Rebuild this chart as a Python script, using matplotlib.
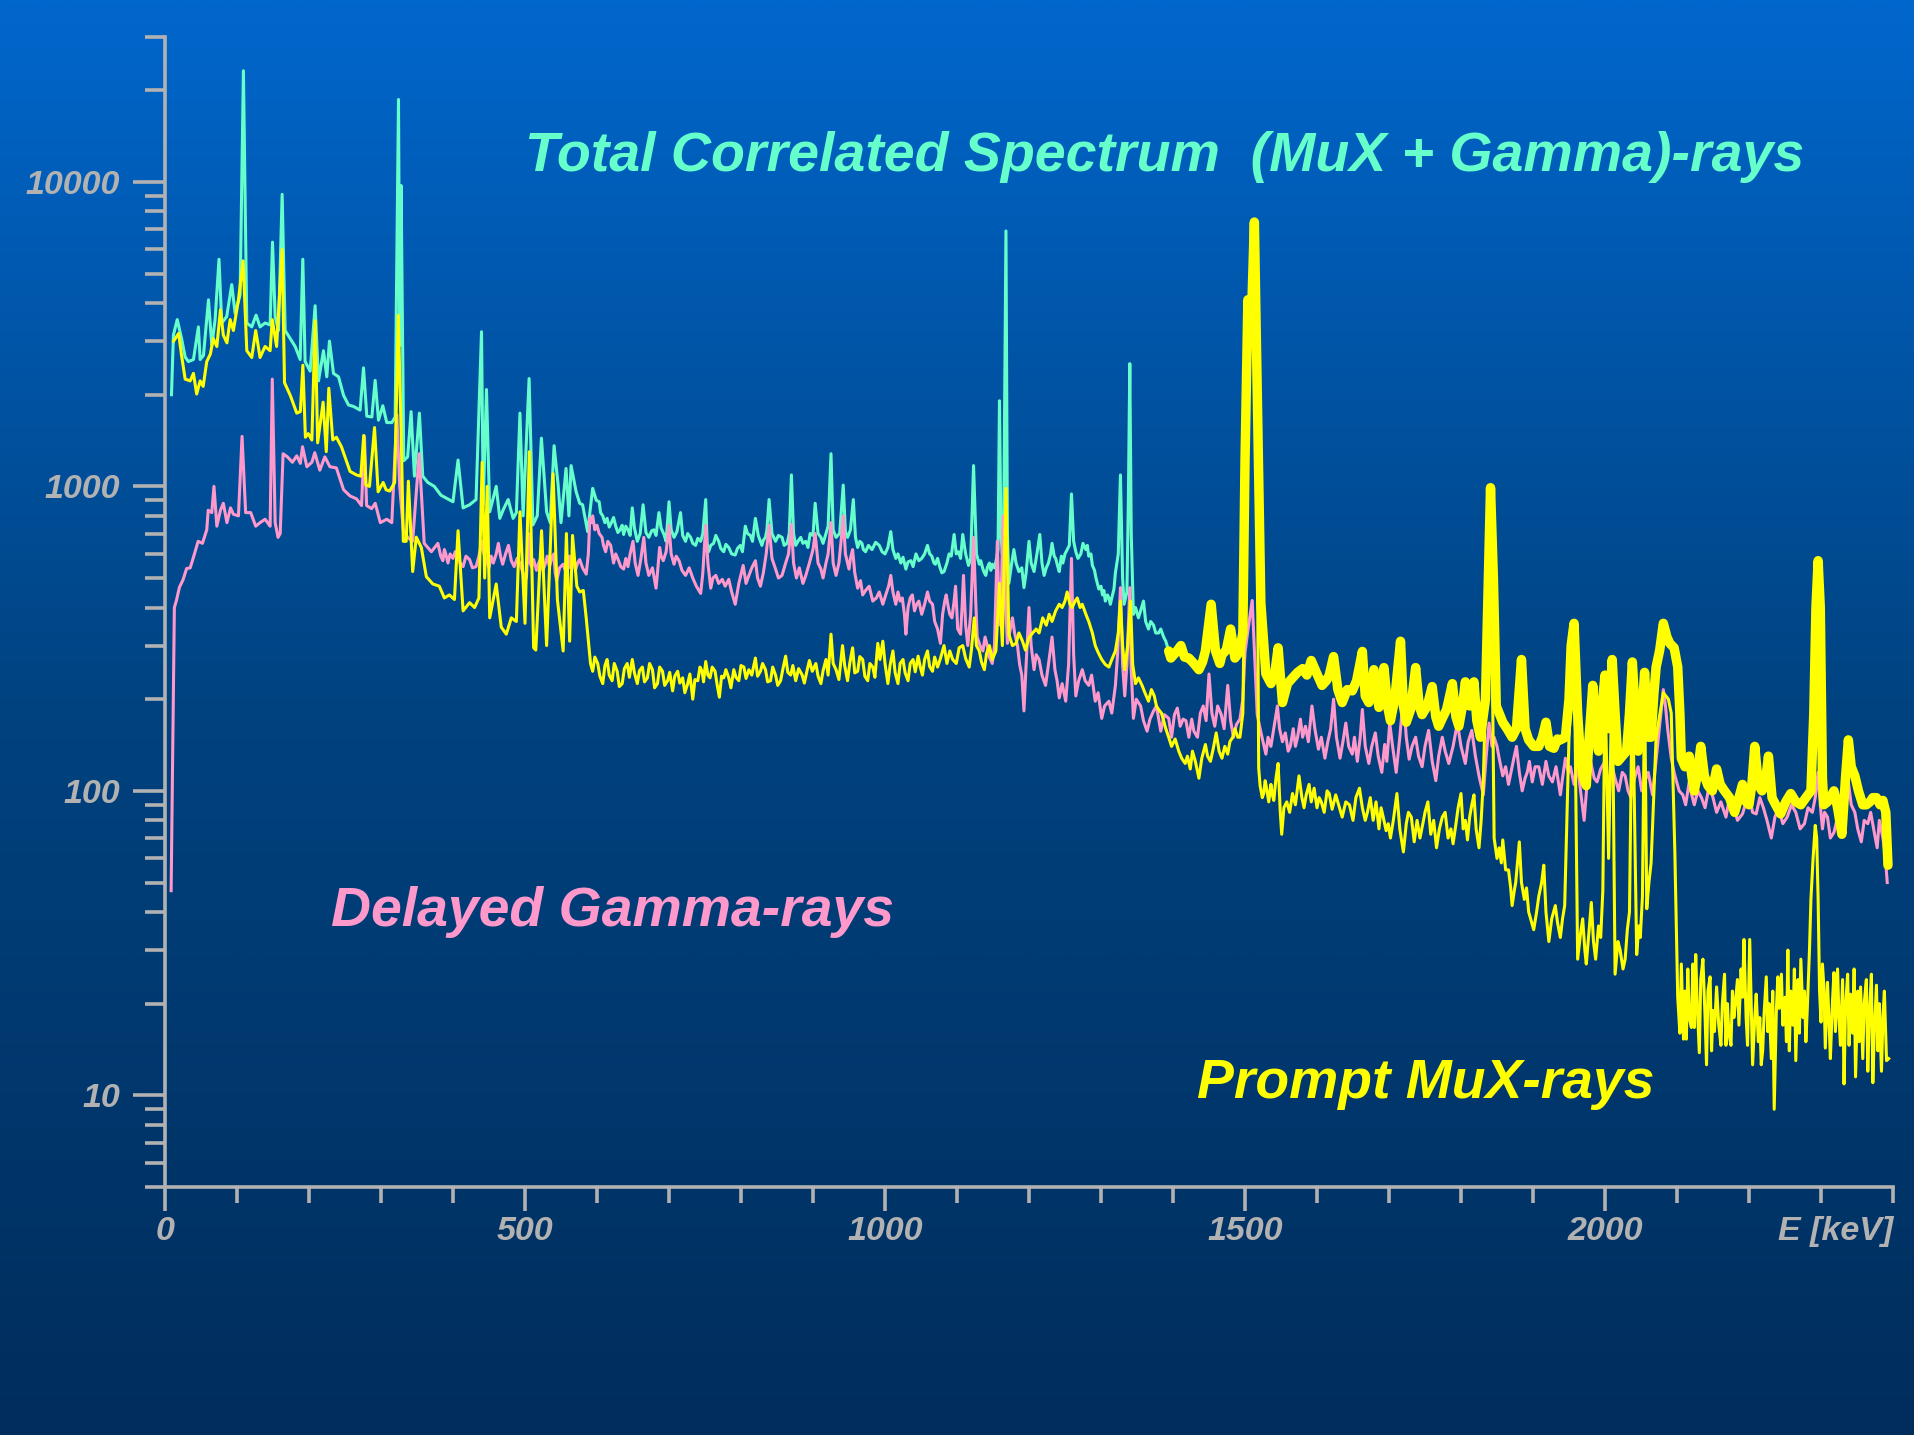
import numpy as np
import matplotlib
matplotlib.use("Agg")
import matplotlib.pyplot as plt
from matplotlib.colors import LinearSegmentedColormap
from matplotlib.ticker import FixedLocator, NullFormatter, FixedFormatter

# ---------------- data: (energy keV, counts) ----------------
total_points = [
    (9, 2000), (11.7, 3140), (17, 3530), (23, 3060), (28, 2660), (32.5, 2570), (39.5, 2610), (46.4, 3340),
    (48.8, 2610), (53.4, 2690), (60.4, 4100), (65, 2900), (69.6, 3530), (75, 5570), (78.8, 3440), (85.7, 3610),
    (92.7, 4600), (97.4, 3700), (104.3, 4250), (108.9, 23170), (113.6, 3440), (120.5, 3340), (126.5, 3650),
    (132, 3340), (139, 3440), (146, 3390), (149.3, 6340), (153, 3610), (157.6, 3250), (162.7, 9100),
    (166.9, 3250), (173.8, 3060), (180.8, 2880), (187.7, 2610), (191.4, 5570), (194.6, 2570), (201.6, 2390),
    (208.5, 3920), (213.2, 2220), (220.1, 2790), (224.7, 2290), (228.4, 3000), (234, 2350), (241, 2290),
    (248, 1990), (254.9, 1850), (261.8, 1830), (271, 1780), (275.7, 2450), (280.3, 1700), (287.3, 1690),
    (291.9, 2230), (296.5, 1650), (302.5, 1840), (308, 1620), (315, 1620), (319.7, 1690), (324.3, 18650),
    (326.1, 2900), (327.9, 9730), (331.6, 1214), (337, 1250), (341.8, 1760), (346.4, 1080), (353.3, 1740),
    (358, 1080), (365, 1030), (374, 1000), (383.3, 935), (392.6, 910), (400, 890), (407, 1220), (414, 850),
    (423, 870), (432, 905), (439.6, 3220), (442, 870), (446.5, 2080), (451, 825), (460, 1000), (465, 785),
    (470, 840), (476.6, 905), (483.5, 785), (488, 820), (493, 1740), (497.4, 800), (505.7, 2260), (511, 747),
    (517, 800), (522.8, 1440), (530, 825), (535, 760), (540.4, 1360), (546, 1010), (550, 760), (557, 1145),
    (561, 800), (564, 1170), (571, 960), (576, 880), (580, 870), (587, 710), (594, 985), (599, 900),
    (603, 890), (605, 820), (608, 800), (611, 760), (614, 785), (617, 735), (620, 760), (623, 790), (626, 740),
    (629, 705), (632, 720), (635, 745), (637, 695), (640, 740), (643, 720), (646, 690), (649, 850), (652, 730),
    (656, 660), (660, 700), (664, 870), (668, 705), (672, 680), (676, 715), (679, 720), (682, 690), (686, 820),
    (689, 730), (693, 695), (696, 660), (700, 890), (703, 720), (707, 680), (711, 710), (716, 820), (719, 690),
    (723, 660), (726, 700), (730, 680), (733, 650), (737, 640), (740, 675), (744, 660), (747, 700), (751, 905),
    (753, 650), (755, 610), (758, 640), (762, 650), (765, 690), (769, 660), (772, 625), (776, 610), (779, 645),
    (783, 630), (787, 600), (792, 595), (795, 625), (799, 640), (802, 610), (806, 740), (809, 700), (813, 690),
    (816, 660), (820, 785), (824, 690), (829, 640), (831, 665), (834, 680), (836, 720), (839, 905), (843, 700),
    (848, 660), (852, 690), (857, 680), (860, 640), (864, 650), (867, 700), (870, 1090), (873, 700), (876, 640),
    (880, 665), (883, 680), (886, 650), (890, 660), (893, 630), (896, 700), (900, 690), (903, 880), (907, 700),
    (911, 680), (914, 650), (918, 700), (921, 740), (925, 1280), (928, 720), (932, 680), (937, 700), (942, 1010),
    (945, 710), (948, 680), (952, 720), (956, 905), (959, 680), (962, 630), (965, 660), (968, 650), (970, 620),
    (973, 610), (977, 640), (982, 620), (987, 655), (992, 640), (996, 610), (1000, 600), (1004, 630),
    (1008, 710), (1011, 620), (1015, 580), (1018, 600), (1022, 560), (1025, 585), (1029, 535), (1032, 565),
    (1036, 570), (1039, 545), (1043, 600), (1047, 570), (1051, 580), (1055, 600), (1059, 640), (1062, 600),
    (1065, 590), (1068, 560), (1070, 555), (1073, 580), (1076, 545), (1079, 520), (1082, 525), (1086, 560),
    (1089, 600), (1092, 590), (1096, 695), (1099, 600), (1102, 610), (1105, 580), (1108, 695), (1112, 600),
    (1116, 550), (1119, 580), (1123, 1170), (1127, 600), (1131, 555), (1133, 570), (1136, 535), (1138, 520),
    (1140, 510), (1142, 540), (1145, 560), (1147, 530), (1149, 555), (1152, 540), (1155, 580), (1157, 620),
    (1159, 1910), (1161, 700), (1163, 600), (1165, 800), (1168, 6900), (1170, 700), (1172, 480), (1176, 560),
    (1179, 620), (1182, 560), (1186, 525), (1190, 540), (1193, 465), (1196, 520), (1200, 660), (1203, 560),
    (1207, 525), (1211, 600), (1215, 695), (1218, 560), (1221, 510), (1224, 540), (1227, 560), (1230, 600),
    (1232, 650), (1235, 590), (1237, 580), (1240, 545), (1242, 525), (1245, 590), (1247, 560), (1250, 600),
    (1253, 620), (1256, 640), (1259, 944), (1262, 660), (1265, 610), (1268, 580), (1272, 600), (1275, 650),
    (1279, 620), (1281, 640), (1283, 590), (1286, 600), (1288, 550), (1291, 530), (1293, 500), (1295, 480),
    (1297, 460), (1300, 470), (1302, 440), (1304, 455), (1306, 420), (1309, 440), (1311, 430), (1313, 410),
    (1315, 430), (1318, 460), (1320, 520), (1324, 600), (1327, 1090), (1330, 500), (1332, 410), (1334, 430),
    (1336, 450), (1338, 900), (1340, 2530), (1342, 700), (1345, 380), (1348, 400), (1352, 370), (1355, 390),
    (1359, 420), (1362, 360), (1366, 340), (1369, 360), (1373, 350), (1376, 330), (1380, 330), (1383, 340),
    (1387, 320), (1390, 310), (1394, 288),
    (1397, 273), (1404, 285), (1411, 300), (1416, 275), (1422, 273), (1429, 262), (1436, 250), (1441, 265),
    (1445, 288), (1453, 410), (1459, 288), (1465, 262), (1468, 280), (1474, 290), (1480, 340), (1486, 273),
    (1492, 285), (1497, 330), (1500, 1200), (1504, 4100), (1508, 3000), (1513, 7380), (1518, 1500), (1522, 415),
    (1529, 242), (1536, 225), (1541, 240), (1546, 295), (1552, 195), (1559, 225), (1566, 235), (1573, 245),
    (1580, 252), (1586, 240), (1592, 268), (1599, 245), (1607, 222), (1613, 230), (1617, 240), (1623, 276),
    (1629, 215), (1635, 195), (1642, 215), (1649, 213), (1655, 230), (1663, 287), (1667, 205), (1672, 195),
    (1679, 250), (1686, 188), (1693, 254), (1698, 190), (1702, 170), (1708, 200), (1716, 310), (1720, 190),
    (1724, 168), (1730, 185), (1737, 254), (1742, 190), (1746, 178), (1753, 190), (1760, 220), (1765, 175),
    (1769, 163), (1775, 175), (1780, 185), (1788, 225), (1793, 175), (1797, 163), (1802, 190), (1806, 228),
    (1812, 190), (1818, 228), (1822, 170), (1827, 150), (1834, 200), (1838, 500), (1841, 990), (1845, 500),
    (1849, 190), (1853, 180), (1858, 168), (1864, 160), (1871, 150), (1877, 160), (1884, 270), (1889, 160),
    (1894, 147), (1901, 140), (1908, 140), (1913, 150), (1918, 168), (1923, 140), (1929, 138), (1934, 148),
    (1938, 147), (1945, 150), (1950, 200), (1953, 300), (1957, 355), (1962, 180), (1966, 128), (1970, 110),
    (1974, 104), (1978, 150), (1983, 222), (1987, 160), (1991, 135), (1995, 180), (2000, 240), (2005, 160),
    (2010, 270), (2014, 180), (2018, 125), (2024, 130), (2030, 135), (2034, 180), (2038, 265), (2042, 180),
    (2046, 135), (2050, 160), (2055, 245), (2060, 150), (2064, 150), (2068, 210), (2071, 255), (2076, 290),
    (2081, 355), (2086, 320), (2090, 305), (2096, 295), (2101, 255), (2104, 180), (2106, 128), (2111, 120),
    (2117, 130), (2121, 110), (2124, 100), (2128, 112), (2133, 140), (2138, 112), (2143, 104), (2149, 100),
    (2155, 118), (2160, 105), (2166, 100), (2173, 95), (2180, 85), (2186, 95), (2191, 105), (2196, 92),
    (2200, 90), (2204, 105), (2208, 140), (2213, 105), (2218, 100), (2223, 108), (2227, 130), (2232, 95),
    (2237, 90), (2244, 84), (2251, 92), (2258, 98), (2265, 92), (2272, 90), (2279, 95), (2286, 100),
    (2290, 180), (2293, 400), (2296, 570), (2299, 400), (2302, 110), (2304, 90), (2309, 92), (2313, 95),
    (2318, 100), (2323, 88), (2329, 72), (2334, 110), (2338, 147), (2342, 120), (2347, 112), (2352, 100),
    (2358, 90), (2363, 90), (2368, 92), (2372, 95), (2377, 95), (2382, 90), (2386, 93), (2390, 85), (2393, 57),
]

delayed_points = [
    (8.5, 47), (13, 400), (16, 423), (20, 466), (25, 493), (30, 537), (35, 540), (40, 590), (46, 660), (52, 650),
    (58, 720), (60, 835), (65, 820), (68, 1000), (72, 740), (77, 835), (81, 880), (86, 760), (91, 850), (95, 810),
    (102, 800), (107, 1460), (112, 820), (119, 820), (126, 740), (132, 760), (139, 780), (146, 740), (149, 2250),
    (153, 760), (157, 680), (160, 700), (164, 1280), (170, 1250), (177, 1200), (183, 1260), (188, 1190),
    (191, 1350), (197, 1160), (204, 1200), (208, 1290), (215, 1130), (222, 1250), (229, 1160), (238, 1150),
    (248, 975), (257, 930), (266, 910), (273, 865), (277, 1460), (280, 865), (287, 845), (292, 880), (299, 760),
    (308, 780), (315, 760), (322, 1720), (326, 1000), (331, 720), (337, 680), (344, 660), (353, 1280), (360, 650),
    (370, 610), (379, 650), (383, 590), (386, 570), (388, 620), (390, 600), (393, 560), (396, 600), (400, 580),
    (403, 610), (407, 580), (410, 560), (414, 545), (418, 590), (423, 575), (427, 540), (432, 545), (436, 590),
    (440, 660), (443, 600), (446, 575), (450, 540), (453, 590), (456, 560), (460, 600), (463, 650), (466, 590),
    (469, 555), (473, 600), (477, 640), (481, 570), (485, 545), (489, 580), (493, 560), (497, 520), (502, 500),
    (505, 700), (507, 560), (509, 545), (512, 575), (516, 530), (519, 560), (522, 580), (525, 530), (528, 555),
    (531, 590), (534, 545), (537, 580), (540, 600), (542, 520), (544, 490), (548, 540), (553, 555), (557, 520),
    (561, 590), (563, 540), (565, 590), (568, 560), (570, 530), (573, 560), (576, 575), (580, 540), (585, 515),
    (588, 600), (590, 785), (592, 760), (594, 800), (597, 720), (600, 745), (603, 700), (607, 680), (609, 640),
    (612, 610), (615, 660), (619, 640), (621, 600), (623, 560), (626, 600), (630, 570), (633, 545), (637, 535),
    (640, 580), (643, 545), (646, 600), (650, 660), (653, 560), (657, 510), (661, 580), (665, 680), (668, 560),
    (672, 510), (677, 540), (682, 463), (684, 520), (687, 630), (689, 590), (692, 570), (696, 610), (700, 745),
    (703, 600), (707, 555), (710, 590), (714, 570), (718, 530), (723, 510), (728, 540), (733, 500), (738, 470),
    (744, 445), (747, 520), (751, 745), (754, 560), (758, 463), (761, 500), (765, 510), (769, 480), (774, 495),
    (778, 470), (783, 495), (787, 450), (792, 410), (797, 480), (803, 550), (807, 480), (811, 510), (815, 540),
    (820, 570), (823, 500), (827, 470), (831, 520), (835, 600), (839, 745), (843, 580), (848, 535), (852, 500),
    (857, 510), (862, 560), (866, 600), (870, 750), (873, 560), (877, 500), (881, 540), (886, 480), (890, 510),
    (895, 560), (900, 620), (903, 700), (907, 560), (911, 535), (914, 500), (918, 560), (921, 600), (925, 760),
    (928, 560), (932, 510), (936, 560), (940, 700), (942, 800), (945, 600), (950, 535), (952, 580), (955, 620),
    (958, 520), (962, 463), (966, 490), (969, 440), (973, 455), (978, 470), (983, 420), (988, 430), (992, 450),
    (997, 410), (1001, 440), (1005, 470), (1008, 510), (1011, 450), (1015, 410), (1018, 450), (1021, 420),
    (1024, 430), (1027, 380), (1029, 327), (1032, 400), (1035, 430), (1038, 440), (1041, 390), (1044, 410),
    (1047, 420), (1051, 380), (1055, 410), (1059, 450), (1062, 420), (1066, 410), (1069, 360), (1073, 340),
    (1077, 305), (1080, 380), (1083, 420), (1085, 440), (1088, 400), (1090, 380), (1093, 370), (1096, 420),
    (1098, 470), (1101, 340), (1105, 327), (1107, 400), (1109, 510), (1112, 350), (1115, 300), (1119, 380),
    (1123, 680), (1126, 420), (1128, 320), (1132, 300), (1136, 288), (1139, 320), (1142, 300), (1145, 275),
    (1149, 262), (1152, 300), (1156, 660), (1158, 420), (1160, 350), (1162, 500), (1164, 800), (1167, 450),
    (1170, 305), (1173, 330), (1177, 370), (1180, 330), (1184, 300), (1187, 260), (1190, 240), (1193, 183),
    (1196, 260), (1200, 400), (1203, 300), (1207, 250), (1210, 280), (1214, 270), (1218, 240), (1223, 222),
    (1227, 260), (1232, 320), (1236, 250), (1239, 230), (1242, 202), (1246, 225), (1251, 197), (1255, 260),
    (1259, 580), (1262, 280), (1265, 205), (1269, 230), (1274, 250), (1278, 230), (1283, 222), (1287, 240),
    (1292, 197), (1296, 210), (1301, 173), (1305, 190), (1311, 197), (1315, 180), (1320, 222), (1323, 280),
    (1327, 465), (1330, 260), (1333, 205), (1336, 260), (1340, 465), (1342, 250), (1345, 173), (1349, 200),
    (1355, 190), (1359, 170), (1364, 157), (1368, 172), (1373, 183), (1377, 190), (1383, 157), (1388, 178),
    (1394, 173), (1398, 150), (1402, 178), (1406, 187), (1410, 163), (1414, 172), (1418, 170), (1422, 150),
    (1426, 172), (1429, 157), (1434, 150), (1438, 180), (1442, 190), (1446, 170), (1450, 242), (1454, 180),
    (1458, 163), (1462, 190), (1467, 178), (1471, 160), (1476, 222), (1480, 170), (1484, 150), (1488, 165),
    (1493, 172), (1497, 200), (1500, 285), (1505, 350), (1510, 422), (1514, 260), (1517, 178), (1521, 160),
    (1525, 145), (1529, 132), (1532, 150), (1536, 140), (1540, 160), (1545, 190), (1548, 160), (1552, 145),
    (1556, 155), (1560, 135), (1563, 140), (1567, 160), (1570, 140), (1573, 150), (1577, 172), (1580, 150),
    (1584, 163), (1588, 145), (1593, 190), (1597, 160), (1602, 137), (1606, 150), (1611, 128), (1615, 145),
    (1619, 160), (1623, 200), (1627, 150), (1632, 128), (1636, 145), (1640, 167), (1644, 140), (1649, 132),
    (1652, 150), (1656, 125), (1660, 150), (1663, 185), (1667, 140), (1672, 123), (1676, 140), (1681, 155),
    (1685, 130), (1690, 115), (1694, 142), (1697, 125), (1701, 167), (1705, 140), (1710, 115), (1715, 150),
    (1720, 205), (1724, 150), (1728, 127), (1732, 140), (1737, 150), (1741, 130), (1746, 120), (1750, 140),
    (1755, 158), (1760, 125), (1765, 108), (1769, 130), (1774, 150), (1778, 135), (1783, 123), (1789, 140),
    (1795, 167), (1800, 140), (1806, 123), (1810, 145), (1815, 158), (1820, 130), (1825, 112), (1831, 97),
    (1835, 130), (1839, 167), (1843, 140), (1846, 150), (1850, 140), (1853, 128), (1858, 112), (1862, 120),
    (1866, 105), (1871, 120), (1874, 130), (1877, 140), (1881, 115), (1885, 100), (1889, 110), (1892, 115),
    (1895, 125), (1899, 107), (1903, 120), (1908, 120), (1913, 105), (1918, 125), (1922, 112), (1927, 107),
    (1932, 120), (1938, 97), (1941, 110), (1945, 128), (1949, 115), (1952, 120), (1957, 105), (1962, 120),
    (1966, 100), (1971, 80), (1975, 105), (1980, 125), (1985, 110), (1989, 107), (1994, 118), (2000, 125),
    (2005, 105), (2010, 120), (2014, 110), (2019, 100), (2024, 115), (2028, 112), (2032, 100), (2036, 95),
    (2041, 110), (2046, 120), (2051, 100), (2055, 107), (2060, 115), (2066, 97), (2070, 120), (2073, 140),
    (2077, 175), (2081, 215), (2084, 190), (2087, 160), (2090, 140), (2092, 128), (2096, 115), (2099, 108),
    (2103, 100), (2108, 97), (2112, 90), (2117, 107), (2120, 98), (2124, 90), (2129, 100), (2134, 95),
    (2139, 88), (2145, 105), (2150, 95), (2155, 85), (2161, 92), (2168, 82), (2173, 95), (2178, 90), (2184, 80),
    (2191, 84), (2196, 92), (2201, 95), (2205, 85), (2210, 84), (2215, 95), (2220, 88), (2225, 80), (2231, 70),
    (2236, 82), (2241, 88), (2247, 78), (2253, 82), (2259, 90), (2265, 85), (2271, 75), (2277, 78), (2282, 88),
    (2288, 85), (2292, 95), (2296, 115), (2299, 90), (2302, 75), (2305, 85), (2309, 82), (2313, 70), (2318, 73),
    (2322, 80), (2327, 85), (2332, 95), (2338, 107), (2342, 90), (2347, 85), (2351, 75), (2356, 68), (2360, 80),
    (2365, 78), (2369, 85), (2374, 73), (2378, 65), (2381, 80), (2386, 70), (2389, 62), (2392, 50),
]

prompt_points = [
    (12, 3000), (19, 3180), (23, 2690), (28, 2250), (35, 2220), (39.5, 2350), (44, 2010), (48.8, 2220),
    (53, 2130), (58, 2570), (63, 2720), (67, 3060), (72, 2880), (77, 3800), (81, 3140), (86, 2960),
    (90.5, 3530), (95, 3250), (102, 4100), (108.5, 5500), (113.6, 2790), (120.5, 2650), (126, 3250),
    (132, 2650), (139, 2880), (146, 2790), (149, 3530), (155, 2880), (162.7, 6000), (166, 2190), (174, 1990),
    (183, 1740), (188, 1760), (191.5, 2500), (195, 1450), (199, 1490), (204, 1420), (208.5, 3500), (212, 1390),
    (219.6, 1890), (224, 1300), (227.5, 2100), (233, 1420), (238, 1450), (245, 1350), (250, 1250), (257, 1120),
    (266, 1090), (272, 1080), (276, 1470), (279, 1010), (284, 1000), (291, 1560), (296, 960), (303, 1030),
    (307, 975), (312, 965), (319, 1030), (324, 3650), (328, 1500), (331, 660), (335, 660), (338, 1040),
    (344, 525), (349, 681), (356, 630), (363, 505), (372, 478), (381, 470), (388, 430), (395, 440), (402, 425),
    (407, 715), (414, 390), (423, 415), (430, 400), (436, 430), (440.5, 1200), (444, 500), (447.5, 1000),
    (451, 370), (460, 478), (467, 345), (474, 327), (481, 370), (488, 360), (493, 825), (500, 355), (506, 1300),
    (512, 295), (515, 290), (523, 715), (530, 300), (539, 1100), (545, 425), (553, 288), (557.5, 700),
    (562, 310), (566, 690), (572, 470), (576, 450), (581, 455), (585, 370),
    (589, 293), (591, 262), (594, 247), (597, 275), (601, 262), (604, 238), (608, 225), (611, 258), (614, 270),
    (617, 240), (621, 230), (624, 262), (628, 247), (631, 220), (635, 225), (638, 252), (642, 262), (645, 236),
    (649, 270), (652, 244), (656, 225), (659, 248), (663, 255), (666, 228), (670, 235), (673, 262), (677, 250),
    (680, 218), (684, 225), (687, 255), (691, 247), (694, 222), (698, 230), (701, 245), (705, 213), (708, 238),
    (712, 247), (715, 226), (719, 235), (722, 210), (726, 225), (729, 242), (733, 200), (736, 232), (740, 230),
    (743, 255), (746, 247), (748, 228), (751, 266), (754, 240), (757, 235), (760, 255), (764, 247), (767, 222),
    (770, 203), (773, 238), (776, 235), (779, 250), (783, 235), (786, 218), (790, 250), (793, 236), (797, 230),
    (800, 258), (804, 255), (807, 234), (811, 250), (815, 240), (820, 273), (823, 238), (827, 247), (830, 262),
    (834, 250), (837, 228), (841, 230), (844, 255), (848, 240), (851, 222), (855, 230), (858, 250), (862, 277),
    (865, 245), (869, 240), (872, 258), (876, 230), (880, 252), (885, 240), (888, 226), (892, 250), (895, 268),
    (899, 247), (904, 262), (907, 238), (911, 225), (914, 248), (918, 270), (921, 240), (925, 327), (928, 262),
    (932, 250), (936, 232), (941, 300), (944, 258), (948, 230), (951, 262), (955, 295), (958, 244), (962, 247),
    (965, 276), (969, 270), (972, 238), (976, 230), (979, 262), (983, 255), (986, 236), (990, 305), (993, 270),
    (997, 310), (1000, 262), (1004, 225), (1007, 258), (1011, 288), (1014, 245), (1018, 225), (1021, 262),
    (1025, 270), (1028, 244), (1032, 230), (1035, 262), (1039, 270), (1042, 246), (1046, 277), (1049, 255),
    (1052, 240), (1055, 270), (1059, 288), (1062, 256), (1066, 247), (1069, 275), (1073, 255), (1077, 272),
    (1082, 300), (1086, 262), (1090, 288), (1094, 270), (1099, 262), (1103, 295), (1108, 300), (1112, 272),
    (1117, 255), (1120, 290), (1124, 370), (1127, 300), (1131, 288), (1134, 265), (1138, 250), (1141, 282),
    (1145, 300), (1149, 270), (1154, 288),
    (1159, 480), (1163, 300), (1168, 985), (1172, 327), (1177, 300), (1182, 305), (1186, 330), (1191, 310),
    (1195, 290), (1200, 318), (1205, 330), (1210, 340), (1214, 330), (1219, 370), (1224, 350), (1228, 380),
    (1232, 360), (1237, 390), (1242, 410), (1246, 400), (1250, 420), (1253, 450), (1257, 410), (1260, 400),
    (1264, 420), (1267, 430), (1271, 400), (1274, 410), (1279, 380), (1283, 360), (1288, 330), (1292, 300),
    (1296, 285), (1301, 270), (1306, 260), (1311, 255), (1315, 270), (1320, 288), (1324, 330), (1327, 420),
    (1330, 300), (1333, 250), (1337, 300), (1341, 420), (1344, 260), (1348, 225), (1352, 235), (1357, 222),
    (1361, 210), (1366, 197), (1370, 215), (1374, 205), (1377, 190), (1380, 185), (1384, 180), (1387, 170),
    (1390, 160), (1394, 150), (1398, 140), (1403, 148), (1408, 135), (1412, 128), (1417, 123), (1420, 130),
    (1424, 118), (1427, 135), (1431, 125), (1436, 110), (1440, 128), (1445, 142), (1448, 130), (1452, 125),
    (1456, 138), (1460, 155), (1464, 135), (1468, 128), (1472, 140), (1476, 132), (1479, 145), (1483, 150),
    (1486, 160), (1490, 150), (1493, 150), (1497, 180), (1500, 600), (1504, 4100), (1508, 3000), (1513, 7380),
    (1517, 800), (1519, 119), (1521, 104), (1524, 95), (1526, 98), (1528, 108), (1530, 102), (1533, 92),
    (1536, 105), (1538, 97), (1540, 93), (1543, 110), (1546, 123), (1549, 85), (1551, 72), (1554, 88),
    (1558, 92), (1562, 85), (1566, 98), (1570, 90), (1575, 112), (1579, 95), (1582, 88), (1585, 97),
    (1589, 105), (1592, 92), (1596, 102), (1600, 88), (1603, 95), (1606, 92), (1610, 85), (1614, 100),
    (1617, 98), (1621, 87), (1626, 97), (1630, 90), (1635, 82), (1640, 92), (1645, 90), (1650, 80), (1654, 95),
    (1659, 102), (1663, 88), (1667, 80), (1670, 85), (1674, 95), (1678, 80), (1682, 92), (1686, 75), (1689, 88),
    (1692, 82), (1696, 74), (1699, 78), (1702, 70), (1706, 80), (1711, 98), (1715, 75), (1720, 63), (1724, 78),
    (1727, 85), (1731, 82), (1735, 68), (1739, 80), (1743, 70), (1747, 78), (1750, 85), (1754, 92), (1758, 72),
    (1762, 80), (1766, 65), (1770, 75), (1774, 82), (1778, 85), (1782, 70), (1786, 75), (1789, 67), (1793, 78),
    (1796, 88), (1800, 98), (1803, 75), (1806, 80), (1809, 69), (1812, 82), (1815, 90), (1818, 97), (1821, 75),
    (1825, 65), (1828, 80), (1831, 108), (1836, 300), (1841, 950), (1846, 70), (1850, 60), (1853, 65),
    (1856, 58), (1858, 69), (1862, 55), (1866, 55), (1869, 48), (1871, 42), (1874, 47), (1876, 50), (1879, 60),
    (1881, 68), (1884, 50), (1888, 44), (1891, 48), (1894, 40), (1898, 37), (1901, 35), (1905, 40), (1908, 45),
    (1912, 50), (1915, 57), (1918, 40), (1922, 32), (1926, 38), (1931, 42), (1934, 37), (1938, 33), (1941, 38),
    (1944, 42), (1950, 150), (1957, 330), (1962, 28), (1966, 34), (1969, 38), (1972, 30), (1974, 27),
    (1978, 35), (1981, 43), (1984, 32), (1987, 28), (1991, 36), (1994, 33), (1997, 47), (2000, 220), (2005, 60),
    (2010, 250), (2014, 25), (2018, 32), (2021, 30), (2025, 26), (2028, 28), (2031, 35), (2034, 40),
    (2038, 245), (2044, 29), (2047, 36), (2049, 33), (2052, 45), (2055, 225), (2058, 41), (2061, 50),
    (2064, 58), (2071, 150), (2081, 210), (2088, 200), (2092, 180), (2097, 63),
    (2101, 21), (2104, 16), (2106, 27), (2109, 15.3), (2111, 22), (2113, 15.3), (2115, 26), (2117, 18),
    (2120, 16.7), (2122, 27), (2124, 16.7), (2126, 29), (2128, 20), (2131, 13.8), (2133, 24), (2136, 28),
    (2139, 18), (2141, 12.6), (2143, 22), (2146, 24.5), (2148, 14), (2150, 19), (2152, 16.2), (2155, 22.7),
    (2158, 17), (2161, 14.6), (2163, 20), (2166, 25), (2168, 14.6), (2170, 20), (2172, 16), (2175, 14.6),
    (2177, 22), (2179, 18), (2181, 20), (2184, 24), (2186, 17), (2189, 26), (2191, 21), (2193, 32.5),
    (2196, 18), (2198, 14.6), (2201, 32.5), (2203, 20), (2205, 12.6), (2208, 18), (2210, 21.5), (2213, 15),
    (2215, 18), (2217, 12.6), (2219, 14), (2221, 18.6), (2224, 24.5), (2226, 16.2), (2228, 20), (2231, 13.2),
    (2233, 22), (2235, 9), (2238, 19), (2240, 24.5), (2242, 19.3), (2245, 25), (2247, 17), (2250, 21),
    (2252, 15), (2254, 30), (2256, 14), (2258, 22), (2261, 17), (2263, 26), (2265, 13), (2268, 24), (2270, 16),
    (2272, 28), (2275, 18), (2277, 22), (2279, 15), (2281, 19.3), (2284, 30), (2286, 44), (2289, 60),
    (2292, 77), (2294, 70), (2296, 44), (2298, 22), (2300, 17.4), (2302, 27), (2304, 22.7), (2306, 14.3),
    (2309, 23.5), (2311, 18), (2313, 13.2), (2316, 20.5), (2318, 25.3), (2320, 16.2), (2323, 26), (2325, 18),
    (2327, 14.6), (2330, 24), (2332, 10.9), (2334, 19.3), (2337, 25), (2339, 14.6), (2341, 21.5), (2344, 16),
    (2346, 26), (2348, 11.5), (2351, 22), (2353, 15), (2355, 22.7), (2358, 13.2), (2360, 20), (2363, 24),
    (2365, 12), (2367, 18), (2370, 25), (2372, 11), (2374, 16), (2377, 23), (2379, 14), (2381, 20), (2384, 12),
    (2386, 18), (2388, 22), (2391, 13), (2394, 13.2),
]

highlight_from_keV = 1394

x_major_ticks = [0, 500, 1000, 1500, 2000]
x_major_labels = ["0", "500", "1000", "1500", "2000"]
x_minor_ticks = [100, 200, 300, 400, 600, 700, 800, 900, 1100, 1200, 1300, 1400,
                 1600, 1700, 1800, 1900, 2100, 2200, 2300, 2400]
y_major_ticks = [10, 100, 1000, 10000]
y_major_labels = ["10", "100", "1000", "10000"]
y_minor_ticks = [5, 6, 7, 8, 9, 20, 30, 40, 50, 60, 70, 80, 90, 200, 300, 400, 500, 600, 700, 800, 900,
                 2000, 3000, 4000, 5000, 6000, 7000, 8000, 9000, 20000, 30000]

title_text = "Total Correlated Spectrum  (MuX + Gamma)-rays"
delayed_text = "Delayed Gamma-rays"
prompt_text = "Prompt MuX-rays"
xlabel_text = "E [keV]"

# ---------------- styling ----------------
W, H = 1915, 1435
AQUA = "#66FFCC"
PINK = "#FF99CC"
YELLOW = "#FFFF00"
GRAY = "#B2B2B2"
FONT = ["Liberation Sans", "DejaVu Sans"]

fig = plt.figure(figsize=(W / 100, H / 100), dpi=100)

bg = fig.add_axes([0, 0, 1, 1], zorder=-10)
grad = np.linspace(0, 1, 512).reshape(-1, 1)
cmap = LinearSegmentedColormap.from_list("bg", ["#0067CD", "#00427F", "#002D5C"])
bg.imshow(grad, aspect="auto", cmap=cmap, extent=[0, 1, 0, 1], origin="upper")
bg.axis("off")

left, right = 165 / W, 1893 / W
bottom, top = 1 - 1187 / H, 1 - 36.6 / H
ax = fig.add_axes([left, bottom, right - left, top - bottom])
ax.patch.set_alpha(0)

total_keV, total_counts = map(np.array, zip(*total_points))
delayed_keV, delayed_counts = map(np.array, zip(*delayed_points))
prompt_keV, prompt_counts = map(np.array, zip(*prompt_points))

ax.plot(total_keV, total_counts, color=AQUA, lw=2.2, zorder=2)
ax.plot(delayed_keV, delayed_counts, color=PINK, lw=2.2, zorder=3)
ax.plot(prompt_keV, prompt_counts, color=YELLOW, lw=2.2, zorder=4)
m = total_keV >= highlight_from_keV
ax.plot(total_keV[m], total_counts[m], color=YELLOW, lw=6.8, zorder=5,
        solid_joinstyle="round", solid_capstyle="round")

ax.set_yscale("log")
ax.set_xlim(0, 2400)
ax.set_ylim(5, 30000)

ax.xaxis.set_major_locator(FixedLocator(x_major_ticks))
ax.xaxis.set_major_formatter(FixedFormatter(x_major_labels))
ax.xaxis.set_minor_locator(FixedLocator(x_minor_ticks))
ax.xaxis.set_minor_formatter(NullFormatter())
ax.yaxis.set_major_locator(FixedLocator(y_major_ticks))
ax.yaxis.set_major_formatter(FixedFormatter(y_major_labels))
ax.yaxis.set_minor_locator(FixedLocator(y_minor_ticks))
ax.yaxis.set_minor_formatter(NullFormatter())

for s in ["top", "right"]:
    ax.spines[s].set_visible(False)
for s in ["left", "bottom"]:
    ax.spines[s].set_color(GRAY)
    ax.spines[s].set_linewidth(2.6)

ax.tick_params(axis="y", which="major", direction="out", length=23, width=2.6, color=GRAY,
               labelcolor=GRAY, labelsize=24.5, pad=9.5)
ax.tick_params(axis="y", which="minor", direction="out", length=14.5, width=2.6, color=GRAY)
ax.tick_params(axis="x", which="major", direction="out", length=17, width=2.6, color=GRAY,
               labelcolor=GRAY, labelsize=24.5, pad=4)
ax.tick_params(axis="x", which="minor", direction="out", length=11.5, width=2.6, color=GRAY)
for lab in ax.get_xticklabels() + ax.get_yticklabels():
    lab.set_family(FONT)
    lab.set_fontweight("bold")
    lab.set_fontstyle("italic")

ax.annotate(xlabel_text, xy=(2400, 0), xycoords=("data", "axes fraction"),
            xytext=(0, -21), textcoords="offset points", ha="right", va="top",
            color=GRAY, fontsize=24.5, family=FONT, fontweight="bold", fontstyle="italic")

t1 = fig.text(525 / W, 1 - 171 / H, title_text, color=AQUA, fontsize=44, family=FONT,
              fontweight="bold", fontstyle="italic", ha="left", va="baseline")
t2 = fig.text(331 / W, 1 - 926 / H, delayed_text, color=PINK, fontsize=40, family=FONT,
              fontweight="bold", fontstyle="italic", ha="left", va="baseline")
t3 = fig.text(1197 / W, 1 - 1098 / H, prompt_text, color=YELLOW, fontsize=38, family=FONT,
              fontweight="bold", fontstyle="italic", ha="left", va="baseline")

fig.canvas.draw()
rend = fig.canvas.get_renderer()
for t, target in [(t1, 1280), (t2, 563), (t3, 457)]:
    w = t.get_window_extent(rend).width
    t.set_fontsize(t.get_fontsize() * target / w)

fig.savefig("out.png", dpi=100)
